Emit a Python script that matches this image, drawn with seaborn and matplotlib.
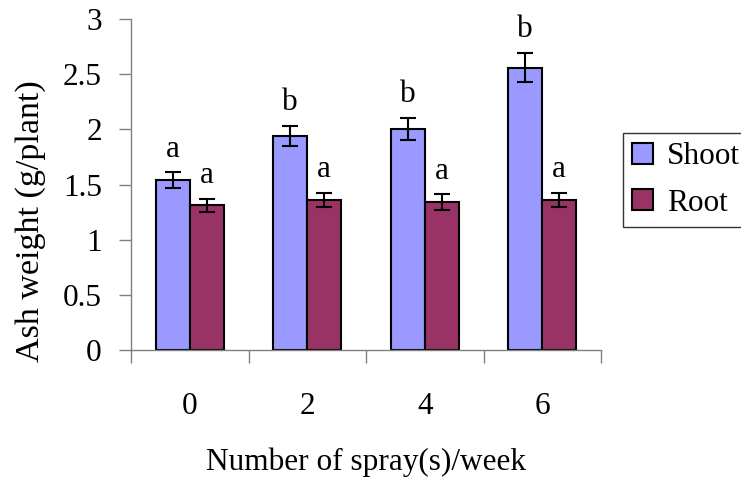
import matplotlib
matplotlib.use("Agg")
import matplotlib.pyplot as plt
import seaborn as sns
import pandas as pd
import numpy as np

categories = ["0", "2", "4", "6"]
shoot = [1.54, 1.94, 2.00, 2.56]
root = [1.31, 1.36, 1.34, 1.36]
shoot_err = [0.07, 0.09, 0.10, 0.13]
root_err = [0.06, 0.065, 0.07, 0.065]
shoot_letters = ["a", "b", "b", "b"]
root_letters = ["a", "a", "a", "a"]
series = ["Shoot", "Root"]
yticks = [0, 0.5, 1, 1.5, 2, 2.5, 3]
ytick_labels = ["0", "0.5", "1", "1.5", "2", "2.5", "3"]

sns.set_theme(style="white")
plt.rcParams["font.family"] = ["Liberation Serif", "DejaVu Serif"]
plt.rcParams["text.color"] = "black"
plt.rcParams["axes.labelcolor"] = "black"
plt.rcParams["xtick.color"] = "black"
plt.rcParams["ytick.color"] = "black"

df = pd.DataFrame({
    "spray": categories * 2,
    "value": shoot + root,
    "part": ["Shoot"] * 4 + ["Root"] * 4,
})

fig = plt.figure(figsize=(7.41, 4.79), dpi=100)
ax = fig.add_axes([131 / 741, 1 - 350 / 479, 470 / 741, 331 / 479])

sns.barplot(data=df, x="spray", y="value", hue="part", order=categories,
            hue_order=series, palette=["#9999FF", "#993366"], width=0.58,
            gap=0, errorbar=None, edgecolor="black", linewidth=1.5, ax=ax,
            saturation=1)

errs = [shoot_err, root_err]
vals = [shoot, root]
letters = [shoot_letters, root_letters]
fs = 22.5
for cont, v, e, lt in zip(ax.containers, vals, errs, letters):
    xs = [p.get_x() + p.get_width() / 2 for p in cont.patches]
    ax.errorbar(xs, v, yerr=e, fmt="none", ecolor="black", elinewidth=1.5,
                capsize=6, capthick=1.5, zorder=5)
    for x, y, err, l in zip(xs, v, e, lt):
        ax.text(x, y + err + 0.08, l, ha="center", va="bottom", fontsize=fs,
                color="black")

ax.set_ylim(0, 3)
ax.set_xlim(-0.5, 3.5)
ax.set_yticks(yticks)
ax.set_yticklabels(ytick_labels, fontsize=fs)
ax.set_xticks(np.arange(-0.5, 4, 1.0))
ax.set_xticklabels([])
ax.set_xticks(range(len(categories)), minor=True)
ax.set_xticklabels(categories, minor=True, fontsize=fs)
ax.tick_params(axis="x", which="major", direction="out", length=9,
               color="#808080", width=1, bottom=True)
ax.tick_params(axis="x", which="minor", length=0, pad=30, bottom=True)
ax.tick_params(axis="y", direction="out", length=9, color="#808080", width=1,
               left=True, pad=12)
for s in ["top", "right"]:
    ax.spines[s].set_visible(False)
for s in ["left", "bottom"]:
    ax.spines[s].set_color("#808080")
    ax.spines[s].set_linewidth(1)

ax.set_xlabel("Number of spray(s)/week", fontsize=fs, labelpad=19,
              color="black")
ax.set_ylabel("Ash weight (g/plant)", fontsize=24.5, color="black")
ax.yaxis.set_label_coords(-0.181, 0.39)

leg = ax.legend(loc="upper left", bbox_to_anchor=(623 / 741, 1 - 133 / 479),
                bbox_transform=fig.transFigure, fontsize=fs, frameon=True,
                fancybox=False, edgecolor="black", handlelength=0.65,
                handleheight=0.65, handletextpad=0.45, borderpad=0.3,
                labelspacing=0.55, borderaxespad=0, title=None)
leg.get_frame().set_linewidth(1)
for t in leg.get_texts():
    t.set_color("black")

fig.savefig("out.png", dpi=100)
